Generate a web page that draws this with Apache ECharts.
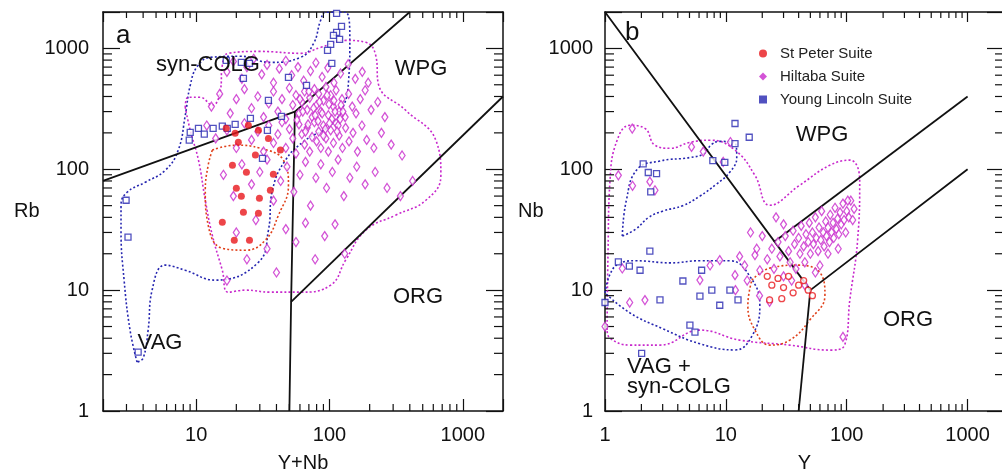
<!DOCTYPE html>
<html>
<head>
<meta charset="utf-8">
<script src="https://cdn.jsdelivr.net/npm/echarts@6/dist/echarts.min.js"></script>
<style>
html,body{margin:0;padding:0;background:#fff}
#chart{width:1002px;height:470px}
</style>
</head>
<body>
<div id="chart"></div>
<script>
// ---------- Panel a: Rb vs (Y+Nb) ----------
const stPeterA = [[16.8,218],[19.6,199],[24.6,231],[29.3,210],[34.8,180],[20.7,167],[18.7,108],[23.8,94.5],[20,69.7],[21.8,59.8],[29.8,57.6],[37.9,91],[36,67],[22.6,44.1],[29.3,43.3],[15.7,36.5],[19.3,25.9],[25.1,25.9],[27.8,131],[42.8,144]];
const hiltabaA = [[17,640],[19,780],[22,560],[24,700],[27,820],[31,610],[34,730],[38,520],[42,680],[47,790],[52,600],[58,700],[64,540],[72,650],[79,760],[88,580],[97,690],[108,520],[121,620],[138,740],[156,560],[176,640],[195,520],
[13,330],[15,420],[18,290],[20,380],[23,460],[26,320],[29,400],[32,270],[35,350],[38,440],[41,300],[44,380],[47,260],[50,470],[53,340],[56,410],[59,290],[62,360],[65,440],[68,310],[71,390],[74,270],[77,460],[80,340],[83,420],[86,300],[90,370],[94,480],[98,280],[102,410],[107,330],[112,450],[118,300],[124,380],[131,270],[139,420],[148,330],[158,290],[170,380],[185,450],[205,310],[230,360],[260,270],
[12,230],[14,180],[17,210],[20,150],[23,240],[26,175],[29,205],[32,140],[35,230],[38,165],[41,195],[44,245],[47,150],[50,215],[53,180],[56,135],[59,235],[62,195],[65,160],[68,220],[71,140],[74,185],[77,245],[80,170],[83,205],[86,150],[90,230],[94,180],[98,140],[102,210],[107,165],[112,240],[118,190],[125,150],[132,220],[140,170],[150,200],[162,140],[175,230],[190,175],[215,150],[245,200],[290,160],[350,130],
[16,90],[19,60],[22,110],[26,75],[30,95],[34,120],[38,55],[43,80],[48,105],[54,65],[60,90],[66,115],[72,50],[79,85],[86,110],[95,70],[105,95],[116,120],[128,60],[142,85],[160,105],[185,75],[220,95],[270,70],[340,60],[420,80],
[17,12],[20,30],[24,18],[28,38],[34,22],[40,14],[47,32],[56,25],[66,36],[78,18],[92,28],[110,35],[130,20],
[57,255],[63,300],[69,235],[76,320],[82,250],[88,290],[93,215],[99,345],[104,260],[110,300],[116,230],[122,340],[60,380],[70,440],[84,360],[96,410],[108,370],[120,260],[66,205],[78,280],[90,190],[100,240],[114,205],[126,300]];
const lincolnA = [[2.98,55.4],[3.08,27.4],[3.67,3.07],[8.87,174],[9.02,202],[10.4,218],[11.5,195],[13.4,218],[15.7,227],[17.1,218],[19.6,235],[25.5,264],[34.2,210],[43.6,274],[31.4,123],[34.8,372],[21.8,766],[25.1,752],[22.6,565],[49.2,575],[67.2,494],[104,752],[113,1945],[123,1520],[113,1356],[107,1280],[119,1186],[102,1079],[96.6,962],[16.8,796]];

// Fields of the discrimination diagram (Pearce et al.)
const boundsA = [
  [[2,80],[55,300],[400,2000]],
  [[55,300],[51.5,8],[50,1]],
  [[51.5,8],[2000,400]]
];

// Dotted envelopes around each suite
const envLincolnA = [[3.6,2.54],[3.19,4.67],[2.88,12.1],[2.73,31.3],[2.73,50.4],[3.03,64.5],[4.14,78],[5.85,98],[7.33,144],[8.28,279],[9.02,494],[10.2,710],[12.8,843],[21.4,861],[36,766],[60.6,843],[75.9,1099],[85.7,1703],[93.4,1990],[132,1990],[142,1164],[139,544],[128,338],[102,231],[66,174],[46.7,119],[37.3,67],[34.8,31.3],[29.3,17],[13.9,12.1],[8.28,14.6],[5.85,16.1],[4.67,10],[4.36,4.67],[4.0,2.74],[3.6,2.54]];
const envHiltabaA = [[8.28,325],[8.71,394],[10.7,394],[13.2,338],[15.2,450],[15.7,724],[17.4,910],[30.3,944],[60.6,910],[85.7,1019],[132,1164],[187,1122],[222,875],[234,494],[373,307],[627,174],[684,89],[528,55.4],[313,41.7],[187,31.3],[132,17.7],[102,11],[60.6,9.62],[36,9.62],[23.4,10],[17.4,9.62],[15.7,14.6],[13.2,28.5],[11.7,55.4],[10.4,119],[9.02,210],[8.28,325]];
const envStPeterA = [[13.2,144],[19.6,158],[30.3,149],[45.1,119],[49.2,73.8],[41.4,41.7],[33,25.9],[23.4,21.4],[15.7,22.2],[12.3,34.5],[11.7,67],[12.3,108],[13.2,144]];

// ---------- Panel b: Nb vs Y ----------
const stPeterB = [[24,11],[27,12.5],[30,10.5],[33,13],[36,9.5],[40,11],[44,12],[48,10],[52,9],[29,8.5],[22,13],[23,8.3]];
const hiltabaB = [[1.68,217],[1.29,89],[1.69,73],[2.35,79],[2.59,67],[5.2,153],[10.9,168],[1.39,15.1],[1.6,7.9],[1.0,5.0],[6.5,140],[9.5,115],
[2.14,8.27],[6.1,12.1],[7.4,16],[8.9,17.7],[11.9,13.3],[14.3,16],[17.4,19.5],[19.1,14.6],
[22,18],[24,22],[25,15],[27,25],[28,19],[30,13],[31,28],[33,21],[34,17],[36,31],[37,24],[38,15],[40,27],[41,20],[42,34],[44,23],[45,17],[46,29],[48,25],[49,36],[50,20],[52,30],[53,24],[55,40],[56,27],[58,21],[59,33],[61,26],[62,45],[64,30],[65,23],[67,37],[68,28],[70,33],[72,25],[73,42],[75,30],[77,36],[78,27],[80,48],[82,32],[84,39],[86,29],[88,44],[90,35],[93,52],[95,38],[98,30],[100,45],[104,40],[108,55],[112,38],[115,47],[35,12],[45,11],[60,16],[70,20],[85,22],[55,14],[30,35],[26,40],[20,28],[18,22],[16,30],[15,12],[13,19],[12,10],[19,9],[23,8],[93,4.1],[102,55]];
const lincolnB = [[2.07,111],[2.28,94],[2.67,92],[2.39,65],[2.35,21],[1.29,17.1],[1.59,15.8],[1.0,7.9],[11.9,239],[15.6,184],[11.9,163],[4.41,11.9],[6.1,8.92],[7.65,10],[8.9,7.5],[5.04,5.13],[5.55,4.5],[10.8,10],[12.6,8.3],[6.3,14.6],[2.85,8.3],[1.95,14.6],[2.01,3.0],[7.8,118],[9.8,114]];

const boundsB = [
  [[1,2000],[50,10],[1000,100]],
  [[25,25],[1000,400]],
  [[50,10],[40,1]]
];

const envHiltabaB = [[1.04,4.67],[1.06,21.4],[1.10,81],[1.26,174],[1.61,231],[2.14,218],[2.59,158],[3.45,149],[5.04,167],[7.38,174],[11.9,144],[17.4,89],[23.1,50.4],[40.9,73.8],[72.4,108],[106,119],[128,81],[123,25.9],[106,8.27],[96,3.51],[72.4,3.19],[33.8,3.51],[13,3.86],[6.1,4.67],[2.85,3.51],[1.61,3.51],[1.10,4],[1.04,4.67]];
const envLincolnB1 = [[1.39,28],[1.5,55],[1.85,100],[2.85,117],[5.04,125],[6.6,135],[7.6,160],[8.9,170],[11.9,165],[12.3,125],[10.8,95],[8.3,75],[6.1,60],[4.4,50],[3.0,45],[2.3,40],[1.8,32],[1.39,28]];
const envLincolnB2 = [[1.0,9.5],[1.1,13.5],[1.3,16.5],[1.8,17.5],[3.5,16.8],[6.1,17.5],[10.8,17.5],[15.8,13],[19.1,7.5],[16.5,4.2],[11.9,3.2],[6.1,3.6],[3.0,4.8],[1.6,6.5],[1.0,9.5]];
const envStPeterB = [[16.4,12.1],[23.1,15.2],[40.9,16.1],[62,13.3],[66,9.1],[49.4,5.65],[33.8,3.86],[23.1,3.51],[17.4,4.67],[15.2,7.5],[16.4,12.1]];

// Minor tick positions (2..9 within each decade)
const minorVals = [2,3,4,5,6,7,8,9,20,30,40,50,60,70,80,90,200,300,400,500,600,700,800,900];

const panelNames = ['a','b'];
const xNames = ['Y+Nb','Y'];
const yNames = ['Rb','Nb'];
const xRanges = [[2,2000],[1,2000]];
const yRanges = [[1,2000],[1,2000]];

const RED = '#e8161b', MAG = '#c828cc', BLUE = '#2626b0', RED_ENV = '#e0401a';
const FONT = 'Liberation Sans, Arial, sans-serif';

const isPow10 = v => Math.abs(Math.log10(v) - Math.round(Math.log10(v))) < 1e-6;
const fmt = v => isPow10(v) ? String(Math.round(v)) : '';

const chart = echarts.init(document.getElementById('chart'), null, {renderer: 'canvas'});

// fixed plot rectangles; outer bounds must not squeeze them
const grids = [
  {left: 103, top: 12, width: 400, height: 399, containLabel: false, outerBoundsMode: 'none'},
  {left: 605, top: 12, width: 399, height: 399, containLabel: false, outerBoundsMode: 'none'}
];

const xAxes = [], yAxes = [];
for (let g = 0; g < 2; g++) {
  const base = {type: 'log', logBase: 10, gridIndex: g, splitLine: {show: false},
    axisLine: {show: true, onZero: false, lineStyle: {color: '#111', width: 1.5}}};
  xAxes.push(Object.assign({}, base, {
    position: 'bottom', min: xRanges[g][0], max: xRanges[g][1],
    axisTick: {inside: true, length: 12, lineStyle: {color: '#111', width: 1.2}},
    axisLabel: {formatter: fmt, fontSize: 20, color: '#111', fontFamily: FONT, margin: 14},
    name: xNames[g], nameLocation: 'middle', nameGap: 42,
    nameTextStyle: {fontSize: 20, color: '#111', fontFamily: FONT}
  }));
  xAxes.push(Object.assign({}, base, {
    position: 'top', min: xRanges[g][0], max: xRanges[g][1],
    axisTick: {inside: true, length: 10, lineStyle: {color: '#111', width: 1.2}},
    axisLabel: {show: false}
  }));
  yAxes.push(Object.assign({}, base, {
    position: 'left', min: yRanges[g][0], max: yRanges[g][1],
    axisTick: {inside: true, length: 17, lineStyle: {color: '#111', width: 1.2}},
    axisLabel: {formatter: fmt, fontSize: 20, color: '#111', fontFamily: FONT, margin: g === 0 ? 14 : 12},
    name: yNames[g], nameLocation: 'middle', nameRotate: 0, nameGap: g === 0 ? 61 : 50,
    nameTextStyle: {fontSize: 20, color: '#111', fontFamily: FONT, padding: [6, 0, 0, 0]}
  }));
  yAxes.push(Object.assign({}, base, {
    position: 'right', min: yRanges[g][0], max: yRanges[g][1],
    axisTick: {inside: true, length: 17, lineStyle: {color: '#111', width: 1.2}},
    axisLabel: {show: false}
  }));
}

const series = [];

// minor ticks on the four sides of each panel
for (let g = 0; g < 2; g++) {
  const xr = xRanges[g], yr = yRanges[g];
  const items = [];
  minorVals.forEach(v => {
    if (v > xr[0] && v < xr[1]) items.push([v, yr[0], 0]);
    if (v > yr[0] && v < yr[1]) items.push([xr[0], v, 1]);
  });
  series.push({
    type: 'custom', xAxisIndex: g * 2, yAxisIndex: g * 2, silent: true, z: 5,
    data: items,
    renderItem: (params, api) => {
      const kind = api.value(2);
      const st = {stroke: '#111', lineWidth: 1.2};
      if (kind === 0) {
        const v = api.value(0);
        const b = api.coord([v, yr[0]]), t = api.coord([v, yr[1]]);
        return {type: 'group', children: [
          {type: 'line', shape: {x1: b[0], y1: b[1], x2: b[0], y2: b[1] - 7}, style: st},
          {type: 'line', shape: {x1: t[0], y1: t[1], x2: t[0], y2: t[1] + 6}, style: st}
        ]};
      }
      const v = api.value(1);
      const l = api.coord([xr[0], v]), r = api.coord([xr[1], v]);
      return {type: 'group', children: [
        {type: 'line', shape: {x1: l[0], y1: l[1], x2: l[0] + 9, y2: l[1]}, style: st},
        {type: 'line', shape: {x1: r[0], y1: r[1], x2: r[0] - 9, y2: r[1]}, style: st}
      ]};
    }
  });
}

function boundary(g, pts) {
  return {type: 'line', xAxisIndex: g * 2, yAxisIndex: g * 2, data: pts, symbol: 'none', silent: true,
    lineStyle: {color: '#111', width: 1.8}, z: 4, animation: false};
}
function envelope(g, pts, color) {
  return {type: 'line', xAxisIndex: g * 2, yAxisIndex: g * 2, data: pts, symbol: 'none', silent: true,
    smooth: 0.45, lineStyle: {color: color, width: 1.6, type: [2, 2.2]}, z: 3, animation: false};
}
function scatter(g, name, pts, symbol, size, itemStyle) {
  return {type: 'scatter', name: name, xAxisIndex: g * 2, yAxisIndex: g * 2, data: pts,
    symbol: symbol, symbolSize: size, itemStyle: itemStyle, z: 6, animation: false};
}

boundsA.forEach(p => series.push(boundary(0, p)));
boundsB.forEach(p => series.push(boundary(1, p)));

series.push(envelope(0, envLincolnA, BLUE));
series.push(envelope(0, envHiltabaA, MAG));
series.push(envelope(0, envStPeterA, RED_ENV));
series.push(envelope(1, envHiltabaB, MAG));
series.push(envelope(1, envLincolnB1, BLUE));
series.push(envelope(1, envLincolnB2, BLUE));
series.push(envelope(1, envStPeterB, RED_ENV));

const hollow = c => ({color: '#fff', borderColor: c, borderWidth: 1.3});

series.push(scatter(0, 'Hiltaba Suite', hiltabaA, 'diamond', [6, 9], hollow(MAG)));
series.push(scatter(0, 'Young Lincoln Suite', lincolnA, 'rect', 6, hollow(BLUE)));
series.push(scatter(0, 'St Peter Suite', stPeterA, 'circle', 7, {color: RED}));
series.push(scatter(1, 'Hiltaba Suite', hiltabaB, 'diamond', [6, 9], hollow(MAG)));
series.push(scatter(1, 'Young Lincoln Suite', lincolnB, 'rect', 6, hollow(BLUE)));
series.push(scatter(1, 'St Peter Suite', stPeterB, 'circle', 6, hollow(RED)));

const labelStyle = (x, y, text, size, align) => ({
  type: 'text', x: x, y: y, z: 10, silent: true,
  style: {text: text, fontSize: size, fontFamily: FONT, fill: '#111', align: align || 'center', verticalAlign: 'middle', lineHeight: 20}
});

chart.setOption({
  animation: false,
  backgroundColor: '#fff',
  grid: grids,
  xAxis: xAxes,
  yAxis: yAxes,
  legend: {
    orient: 'vertical', left: 754, top: 41, itemWidth: 8, itemHeight: 8, itemGap: 8,
    textStyle: {fontSize: 15, fontFamily: FONT, color: '#222', padding: [0, 0, 0, 8]},
    data: [
      {name: 'St Peter Suite', icon: 'circle', itemStyle: {color: RED, borderWidth: 0}},
      {name: 'Hiltaba Suite', icon: 'diamond', itemStyle: {color: MAG, borderWidth: 0}},
      {name: 'Young Lincoln Suite', icon: 'rect', itemStyle: {color: BLUE, borderWidth: 0}}
    ]
  },
  graphic: [
    labelStyle(116, 36, panelNames[0], 26, 'left'),
    labelStyle(625, 33, panelNames[1], 26, 'left'),
    labelStyle(208, 65, 'syn-COLG', 22),
    labelStyle(421, 69, 'WPG', 22),
    labelStyle(160, 343, 'VAG', 22),
    labelStyle(418, 297, 'ORG', 22),
    labelStyle(822, 135, 'WPG', 22),
    labelStyle(908, 320, 'ORG', 22),
    labelStyle(627, 377, 'VAG +\nsyn-COLG', 22, 'left')
  ],
  series: series
});
</script>
</body>
</html>
